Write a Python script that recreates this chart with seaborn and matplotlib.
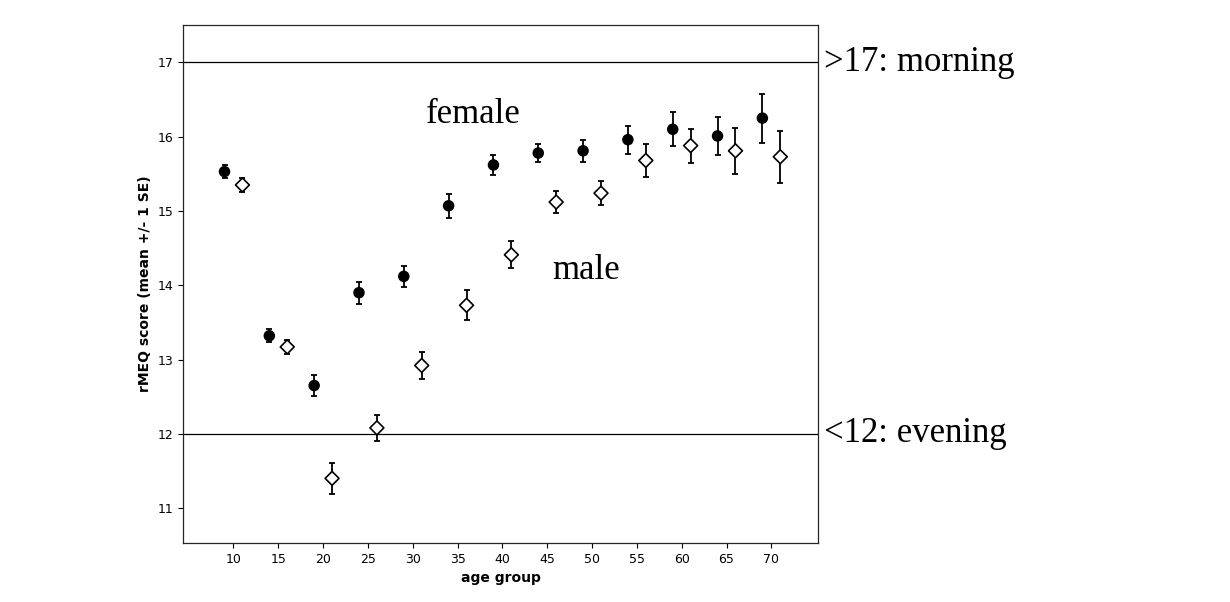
import matplotlib
matplotlib.use("Agg")
import matplotlib.pyplot as plt
import seaborn as sns
import pandas as pd

# age group positions (female slightly left, male slightly right)
female_age = [9, 14, 19, 24, 29, 34, 39, 44, 49, 54, 59, 64, 69]
female_mean = [15.53, 13.32, 12.65, 13.90, 14.12, 15.07, 15.62, 15.78, 15.81, 15.96, 16.10, 16.01, 16.25]
female_se = [0.09, 0.09, 0.14, 0.15, 0.14, 0.16, 0.13, 0.12, 0.15, 0.19, 0.23, 0.25, 0.33]

male_age = [11, 16, 21, 26, 31, 36, 41, 46, 51, 56, 61, 66, 71]
male_mean = [15.35, 13.17, 11.40, 12.08, 12.92, 13.73, 14.41, 15.12, 15.24, 15.68, 15.88, 15.81, 15.73]
male_se = [0.09, 0.09, 0.21, 0.18, 0.18, 0.20, 0.18, 0.15, 0.16, 0.22, 0.23, 0.31, 0.35]

xticks = list(range(10, 75, 5))
yticks = [11, 12, 13, 14, 15, 16, 17]

df = pd.concat([
    pd.DataFrame({"age": female_age, "score": female_mean, "se": female_se, "sex": "female"}),
    pd.DataFrame({"age": male_age, "score": male_mean, "se": male_se, "sex": "male"}),
])

sns.set_style("ticks")
plt.rcParams["text.color"] = "black"
plt.rcParams["xtick.color"] = "black"
plt.rcParams["ytick.color"] = "black"
plt.rcParams["axes.labelcolor"] = "black"
fig = plt.figure(figsize=(12.3, 6.02), dpi=100)
ax = fig.add_axes([0.149, 0.098, 0.516, 0.86])

for sex, d in df.groupby("sex"):
    ax.errorbar(d["age"], d["score"], yerr=d["se"], fmt="none", ecolor="black",
                elinewidth=1.3, capsize=2.5, capthick=1.3)

sns.scatterplot(data=df, x="age", y="score", hue="sex", style="sex",
                markers={"female": "o", "male": "D"},
                palette={"female": "black", "male": "white"},
                edgecolor="black", linewidth=1.2, s=50, legend=False, ax=ax, zorder=3)

ax.axhline(17, color="black", lw=0.9)
ax.axhline(12, color="black", lw=0.9)

ax.set_xlim(4.4, 75.2)
ax.set_ylim(10.53, 17.5)
ax.set_xticks(xticks)
ax.set_yticks(yticks)
ax.tick_params(labelsize=9)
ax.set_xlabel("age group", fontsize=10, fontweight="bold")
ax.set_ylabel("rMEQ score (mean +/- 1 SE)", fontsize=10, fontweight="bold")
for s in ax.spines.values():
    s.set_linewidth(0.9)

serif = ["Liberation Serif", "DejaVu Serif"]
ax.text(31.5, 16.3, "female", family=serif, fontsize=25, va="center")
ax.text(45.6, 14.2, "male", family=serif, fontsize=25, va="center")
ax.text(1.01, 17, ">17: morning", transform=ax.get_yaxis_transform(),
        family=serif, fontsize=25, va="center")
ax.text(1.01, 12, "<12: evening", transform=ax.get_yaxis_transform(),
        family=serif, fontsize=25, va="center")

fig.savefig("out.png", dpi=100)
